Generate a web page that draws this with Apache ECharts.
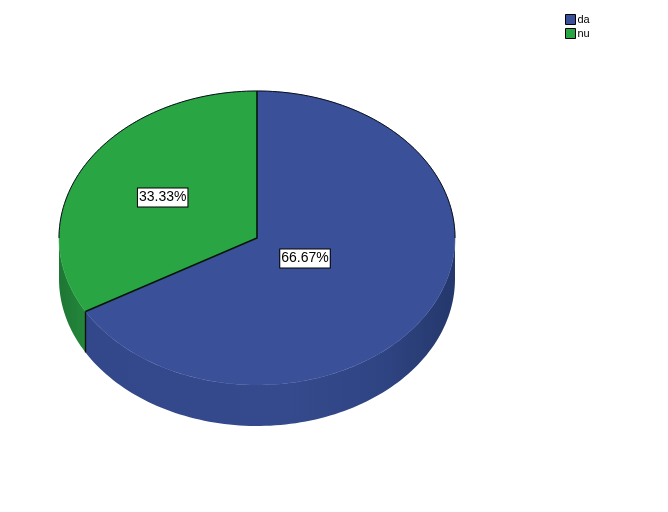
<!DOCTYPE html>
<html>
<head>
<meta charset="utf-8">
<style>html,body{margin:0;padding:0;background:#fff}#c{width:668px;height:512px}</style>
<script src="https://cdn.jsdelivr.net/npm/echarts@6/dist/echarts.min.js"></script>
</head>
<body>
<div id="c"></div>
<script>
var categories = ['da', 'nu'];
var values = [66.67, 33.33];
var labels = ['66.67%', '33.33%'];
var topColors = ['#3a5199', '#2aa543'];
var sideStops = [
  [[0, '#33488a'], [0.55, '#344a8c'], [0.8, '#2f4483'], [1, '#25386c']],
  [[0, '#1e7634'], [1, '#23873b']]
];
var labelRadius = [0.28, 0.55];

var CX = 257, CY = 238, RX = 198, RY = 147, DEPTH = 41;
var total = values[0] + values[1];

function pt(deg, dy) {
  var a = deg * Math.PI / 180;
  return [CX + RX * Math.sin(a), CY - RY * Math.cos(a) + (dy || 0)];
}
function arc(a0, a1, dy) {
  var n = Math.max(2, Math.ceil(Math.abs(a1 - a0) / 1.5)), out = [];
  for (var i = 0; i <= n; i++) out.push(pt(a0 + (a1 - a0) * i / n, dy));
  return out;
}
function startOf(idx) {
  var s = 0;
  for (var i = 0; i < idx; i++) s += values[i];
  return s / total * 360;
}

function renderSlice(idx) {
  return function (params, api) {
    var a0 = startOf(idx), a1 = a0 + api.value(0) / total * 360;
    var children = [];
    var s0 = Math.max(a0, 90), s1 = Math.min(a1, 270);
    if (s1 > s0) {
      var upper = arc(s0, s1, 0), lower = arc(s1, s0, DEPTH);
      children.push({
        type: 'polygon', silent: true,
        shape: { points: upper.concat(lower) },
        style: {
          fill: new echarts.graphic.LinearGradient(0, 0, 1, 0,
            sideStops[idx].map(function (st) { return { offset: st[0], color: st[1] }; })),
          stroke: null
        }
      });
    }
    children.push({
      type: 'polygon', silent: true,
      shape: { points: [[CX, CY]].concat(arc(a0, a1, 0)) },
      style: { fill: topColors[idx], stroke: topColors[idx], lineWidth: 0.5 }
    });
    return { type: 'group', children: children };
  };
}

function renderOverlay(params, api) {
  var children = [];
  children.push({ type: 'polyline', silent: true, shape: { points: arc(-90, 90, 0) }, style: { stroke: '#0a0f1c', lineWidth: 1, fill: null } });
  var cut = startOf(1);
  children.push({ type: 'polyline', silent: true, shape: { points: [pt(0), [CX, CY], pt(cut)] }, style: { stroke: '#06140a', lineWidth: 1.6, fill: null } });
  children.push({ type: 'line', silent: true, shape: { x1: pt(cut)[0], y1: pt(cut)[1], x2: pt(cut)[0], y2: pt(cut, DEPTH)[1] }, style: { stroke: '#06140a', lineWidth: 1.4 } });
  values.forEach(function (v, i) {
    var mid = startOf(i) + v / total * 180;
    var a = mid * Math.PI / 180;
    children.push({
      type: 'text', silent: true,
      x: CX + RX * labelRadius[i] * Math.sin(a),
      y: CY - RY * labelRadius[i] * Math.cos(a),
      style: {
        text: labels[i], fill: '#000', font: '14px "Liberation Sans", Arial, sans-serif',
        align: 'center', verticalAlign: 'middle',
        backgroundColor: '#fff', borderColor: '#000', borderWidth: 1, padding: [3, 1, 1, 1]
      }
    });
  });
  return { type: 'group', children: children };
}

var series = categories.map(function (name, i) {
  return {
    type: 'custom', name: name, coordinateSystem: 'none', silent: true,
    renderItem: renderSlice(i), data: [[values[i]]],
    itemStyle: { color: topColors[i] }, z: 2 + i, animation: false
  };
});
series.push({ type: 'custom', name: 'overlay', coordinateSystem: 'none', silent: true, renderItem: renderOverlay, data: [[0]], z: 10, animation: false });

var chart = echarts.init(document.getElementById('c'), null, { renderer: 'canvas' });
chart.setOption({
  animation: false,
  backgroundColor: '#fff',
  legend: {
    data: categories, orient: 'vertical', left: 565, top: 14,
    itemWidth: 10, itemHeight: 10, itemGap: 3, selectedMode: false, padding: 0,
    icon: 'rect',
    itemStyle: { borderColor: '#000', borderWidth: 1 },
    textStyle: { fontFamily: '"Liberation Sans", Arial, sans-serif', fontSize: 11, color: '#000', padding: [3, 0, 0, -3] }
  },
  series: series
});
</script>
</body>
</html>
